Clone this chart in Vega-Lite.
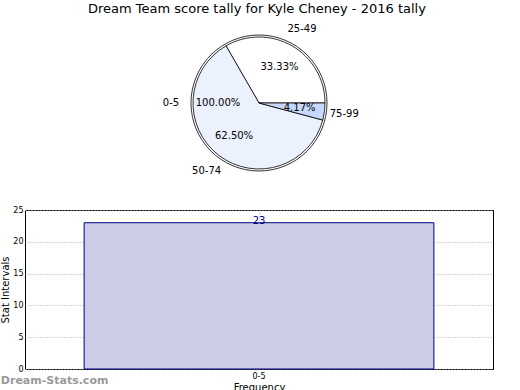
{
  "$schema": "https://vega.github.io/schema/vega-lite/v6.json",
  "padding": {"left": 0, "top": 2, "right": 5, "bottom": 0},
  "config": {"font": "DejaVu Sans", "view": {"stroke": "#000000"}},
  "title": {"text": "Dream Team score tally for Kyle Cheney - 2016 tally", "fontSize": 13, "fontWeight": "normal", "color": "#000000", "anchor": "middle", "offset": 8, "dx": 10},
  "datasets": {
    "pie": [
      {"range": "0-5", "count": 23, "pct": "100.00%"},
      {"range": "25-49", "count": 8, "pct": "33.33%"},
      {"range": "50-74", "count": 15, "pct": "62.50%"},
      {"range": "75-99", "count": 1, "pct": "4.17%"}
    ],
    "bars": [
      {"range": "0-5", "count": 23}
    ]
  },
  "vconcat": [
    {
      "width": 468,
      "height": 140,
      "view": {"stroke": null},
      "data": {"name": "pie"},
      "layer": [
        {
          "transform": [{"filter": "datum.range === '0-5'"}],
          "mark": {"type": "arc", "outerRadius": 68, "stroke": "#000000", "strokeWidth": 0.8},
          "encoding": {
            "theta": {"field": "count", "type": "quantitative", "stack": true, "scale": {"range": [1.5708, 7.854]}},
            "color": {"field": "range", "type": "nominal", "legend": null,
              "scale": {"domain": ["0-5", "25-49", "50-74", "75-99"], "range": ["#ffffff", "#ffffff", "#ebf1fd", "#c6d9fc"]}}
          }
        },
        {
          "transform": [{"filter": "datum.range !== '0-5'"}],
          "mark": {"type": "arc", "outerRadius": 66, "stroke": "#000000", "strokeWidth": 0.8},
          "encoding": {
            "theta": {"field": "count", "type": "quantitative", "stack": true, "scale": {"range": [1.5708, 7.854]}},
            "order": {"field": "range", "sort": "descending"},
            "color": {"field": "range", "type": "nominal", "legend": null,
              "scale": {"domain": ["0-5", "25-49", "50-74", "75-99"], "range": ["#ffffff", "#ffffff", "#ebf1fd", "#c6d9fc"]}}
          }
        },
        {
          "transform": [{"filter": "datum.range === '0-5'"}],
          "layer": [
            {
              "mark": {"type": "text", "radius": 88, "fontSize": 10, "color": "#000000"},
              "encoding": {
                "theta": {"field": "count", "type": "quantitative", "stack": true, "scale": {"range": [1.5708, 7.854]}},
                "detail": {"field": "range", "type": "nominal"},
                "text": {"field": "range", "type": "nominal"}
              }
            },
            {
              "mark": {"type": "text", "radius": 41, "fontSize": 10, "color": "#000000"},
              "encoding": {
                "theta": {"field": "count", "type": "quantitative", "stack": true, "scale": {"range": [1.5708, 7.854]}},
                "detail": {"field": "range", "type": "nominal"},
                "text": {"field": "pct", "type": "nominal"}
              }
            }
          ]
        },
        {
          "transform": [{"filter": "datum.range !== '0-5'"}],
          "layer": [
            {
              "mark": {"type": "text", "radius": 86, "fontSize": 10, "color": "#000000"},
              "encoding": {
                "theta": {"field": "count", "type": "quantitative", "stack": true, "scale": {"range": [1.5708, 7.854]}},
                "order": {"field": "range", "sort": "descending"},
                "detail": {"field": "range", "type": "nominal"},
                "text": {"field": "range", "type": "nominal"}
              }
            },
            {
              "mark": {"type": "text", "radius": 41, "fontSize": 10, "color": "#000000"},
              "encoding": {
                "theta": {"field": "count", "type": "quantitative", "stack": true, "scale": {"range": [1.5708, 7.854]}},
                "order": {"field": "range", "sort": "descending"},
                "detail": {"field": "range", "type": "nominal"},
                "text": {"field": "pct", "type": "nominal"}
              }
            }
          ]
        }
      ],
      "resolve": {"scale": {"theta": "independent"}}
    },
    {
      "width": 468,
      "height": 159,
      "data": {"name": "bars"},
      "title": {"text": "Dream-Stats.com", "orient": "bottom", "anchor": "start", "frame": "bounds", "color": "#999999", "fontSize": 11, "fontWeight": "bold", "offset": 0, "dy": -17, "dx": 0},
      "encoding": {
        "x": {"field": "range", "type": "nominal",
          "scale": {"paddingInner": 0, "paddingOuter": 0.169},
          "axis": {"title": "Frequency", "titleFontSize": 10, "titleFontWeight": "normal", "titleColor": "#000000", "titlePadding": 2,
            "labelFontSize": 8, "labelAngle": 0, "labelColor": "#000000", "labelPadding": 3,
            "ticks": false, "domain": false,
            "grid": true, "bandPosition": 0.5, "gridDash": [1, 2], "gridColor": "#aaaaaa", "gridWidth": 1}},
        "y": {"field": "count", "type": "quantitative",
          "scale": {"domain": [0, 25]},
          "axis": {"title": "Stat Intervals", "titleFontSize": 10, "titleFontWeight": "normal", "titleColor": "#000000", "titlePadding": 2,
            "labelFontSize": 8, "labelColor": "#000000", "labelPadding": 2, "values": [0, 5, 10, 15, 20, 25],
            "ticks": false, "domain": false,
            "grid": true, "gridDash": [1, 2], "gridColor": "#aaaaaa", "gridWidth": 1}}
      },
      "layer": [
        {
          "mark": {"type": "bar", "fill": "#ccccE6", "stroke": "#000080", "strokeWidth": 1}
        },
        {
          "mark": {"type": "text", "baseline": "bottom", "dy": 3, "fontSize": 10, "color": "#000080"},
          "encoding": {"text": {"field": "count", "type": "quantitative"}}
        }
      ]
    }
  ],
  "spacing": 28
}
